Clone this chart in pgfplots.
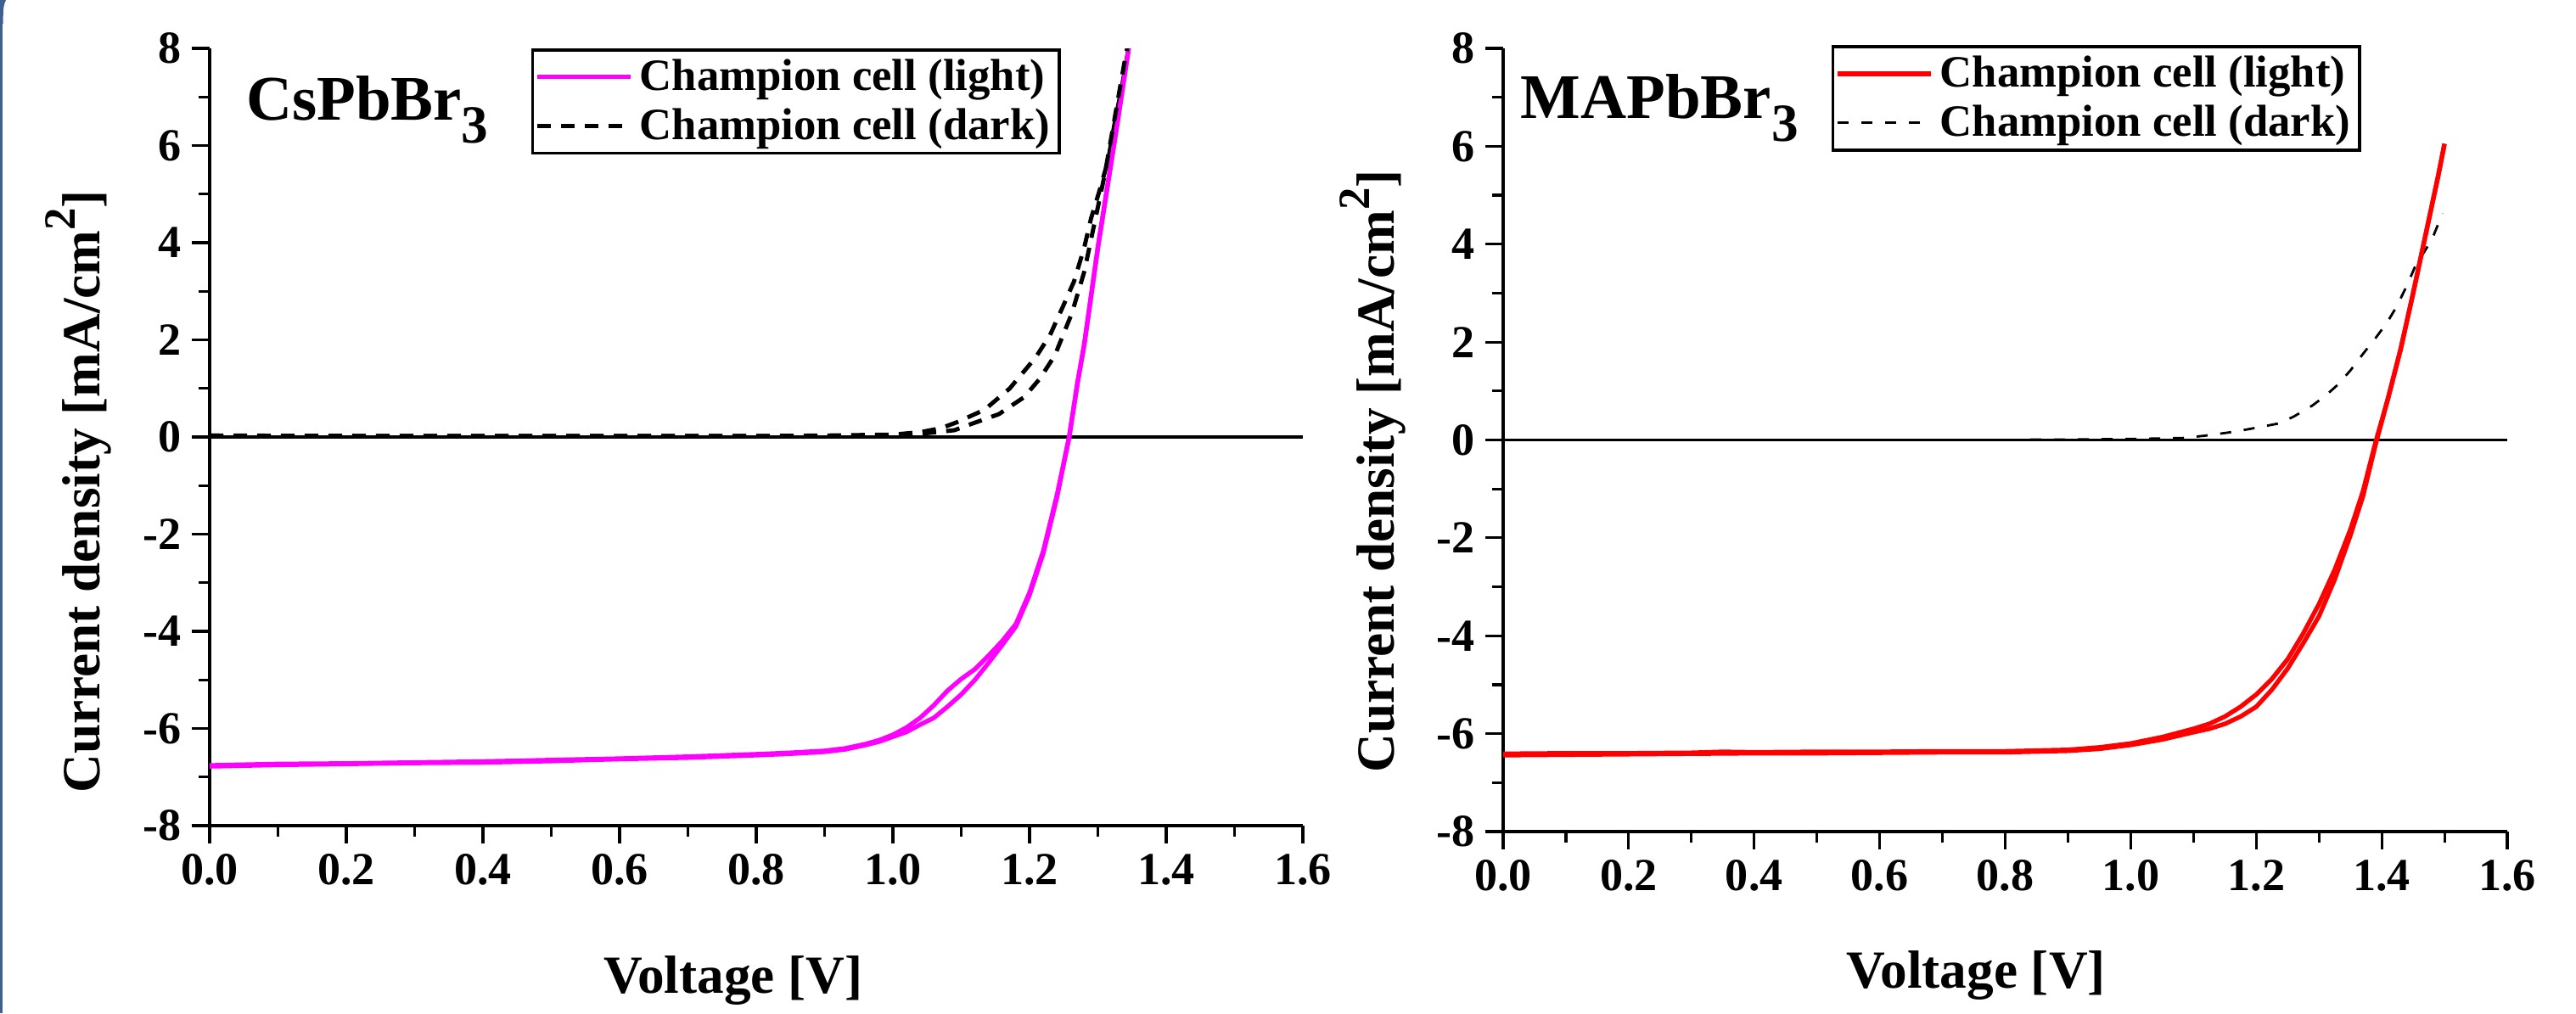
\documentclass[border=0pt]{standalone}
\usepackage{fontspec}
\setmainfont{Liberation Serif}
\usepackage{pgfplots}
\pgfplotsset{compat=1.18}
\definecolor{slidebar}{RGB}{63,95,143}
\definecolor{jvmagenta}{RGB}{255,0,255}
\definecolor{jvred}{RGB}{255,0,0}
\pgfplotsset{
  jvaxis/.style={
    scale only axis,
    xmin=0, xmax=1.6, ymin=-8, ymax=8,
    axis x line=bottom, axis y line=left,
    axis line style={-, line width=1pt},
    xtick={0,0.2,0.4,0.6,0.8,1.0,1.2,1.4,1.6},
    ytick={-8,-6,-4,-2,0,2,4,6,8},
    minor x tick num=1, minor y tick num=1,
    tick align=outside, tick style={black, line width=0.9pt},
    major tick length=0.21cm, minor tick length=0.13cm,
    x tick label style={/pgf/number format/fixed,
      /pgf/number format/fixed zerofill, /pgf/number format/precision=1},
    /pgf/number format/assume math mode=true,
    tick label style={font=\fontsize{15.4}{18}\selectfont\bfseries},
    label style={font=\fontsize{18}{21}\selectfont\bfseries},
    xlabel={Voltage [V]},
    ylabel={Current density [mA/cm\raisebox{0.45em}{\fontsize{15}{15}\selectfont 2}]},
    legend cell align=left,
    legend style={draw=black, line width=1pt, fill=white, anchor=north west,
      font=\fontsize{15}{18}\selectfont\bfseries, inner sep=0.03cm,
      nodes={inner sep=0.08cm}, row sep=0pt},
    legend image code/.code={\draw[#1] (0cm,0cm) -- (1.1cm,0cm);},
  },
  zeroline/.style={black, line width=0.9pt, forget plot},
}

% digitised J-V data (mA/cm^2 vs V)
\pgfplotstableread{
V J
0 -6.76
0.1 -6.73
0.2 -6.72
0.3 -6.70
0.4 -6.68
0.5 -6.65
0.6 -6.62
0.7 -6.58
0.8 -6.53
0.85 -6.50
0.9 -6.46
0.93 -6.41
0.96 -6.32
0.98 -6.24
1.0 -6.13
1.02 -5.98
1.04 -5.78
1.06 -5.52
1.08 -5.22
1.10 -4.98
1.12 -4.78
1.14 -4.50
1.16 -4.20
1.18 -3.85
1.20 -3.20
1.22 -2.35
1.24 -1.20
1.258 0
1.27 1.1
1.28 1.9
1.29 2.9
1.30 3.9
1.31 4.8
1.32 5.7
1.33 6.6
1.345 8.0
}\csLightA
\pgfplotstableread{
V J
0 -6.78
0.1 -6.75
0.2 -6.73
0.3 -6.71
0.4 -6.70
0.5 -6.67
0.6 -6.63
0.7 -6.60
0.8 -6.55
0.85 -6.52
0.9 -6.48
0.93 -6.43
0.96 -6.34
0.98 -6.27
1.0 -6.17
1.02 -6.07
1.04 -5.92
1.06 -5.78
1.08 -5.55
1.10 -5.30
1.12 -5.00
1.14 -4.65
1.16 -4.28
1.18 -3.90
1.20 -3.25
1.22 -2.40
1.24 -1.25
1.258 0
1.27 1.1
1.28 1.9
1.29 2.9
1.30 3.9
1.31 4.8
1.32 5.7
1.33 6.6
1.345 8.0
}\csLightB
\pgfplotstableread{
V J
0 0.03
0.05 0.02
0.2 0.02
0.4 0.02
0.6 0.02
0.8 0.02
0.9 0.03
1.0 0.05
1.04 0.10
1.07 0.18
1.093 0.30
1.134 0.56
1.171 1.00
1.209 1.64
1.23 2.10
1.248 2.66
1.265 3.20
1.28 3.90
1.29 4.50
1.303 5.10
1.315 5.70
1.325 6.50
1.335 7.20
1.345 8.00
}\csDarkA
\pgfplotstableread{
V J
0 0.03
0.3 0.02
0.6 0.02
0.9 0.02
1.0 0.04
1.05 0.08
1.09 0.14
1.113 0.26
1.155 0.47
1.192 0.82
1.215 1.20
1.237 1.68
1.262 2.55
1.28 3.40
1.295 4.40
1.31 5.40
1.325 6.60
1.34 7.80
1.35 8.50
}\csDarkB
\pgfplotstableread{
V J
0 -6.41
0.1 -6.40
0.2 -6.40
0.3 -6.39
0.35 -6.37
0.4 -6.38
0.5 -6.37
0.6 -6.37
0.7 -6.36
0.8 -6.36
0.9 -6.33
0.95 -6.28
1.0 -6.20
1.05 -6.07
1.1 -5.90
1.125 -5.80
1.15 -5.65
1.175 -5.45
1.2 -5.20
1.225 -4.88
1.25 -4.48
1.275 -3.95
1.3 -3.35
1.325 -2.65
1.35 -1.83
1.37 -1.05
1.39 -0.05
1.41 0.85
1.43 1.85
1.45 3.00
1.47 4.20
1.49 5.40
1.5 6.05
}\maLightA
\pgfplotstableread{
V J
0 -6.44
0.1 -6.43
0.2 -6.42
0.3 -6.41
0.4 -6.40
0.5 -6.40
0.6 -6.39
0.7 -6.38
0.8 -6.38
0.9 -6.35
0.95 -6.31
1.0 -6.23
1.05 -6.12
1.1 -5.97
1.125 -5.90
1.15 -5.80
1.175 -5.65
1.2 -5.45
1.225 -5.10
1.25 -4.67
1.275 -4.15
1.3 -3.60
1.325 -2.85
1.35 -1.95
1.37 -1.15
1.39 -0.10
1.41 0.85
1.43 1.85
1.45 3.00
1.47 4.20
1.49 5.40
1.5 6.05
}\maLightB
\pgfplotstableread{
V J
0.84 0.01
0.9 0.01
1.0 0.02
1.083 0.04
1.12 0.09
1.166 0.17
1.2 0.25
1.237 0.34
1.26 0.48
1.289 0.70
1.31 0.90
1.33 1.13
1.35 1.42
1.372 1.79
1.39 2.08
1.408 2.39
1.423 2.71
1.44 3.15
1.454 3.57
1.468 3.85
1.48 4.10
1.497 4.63
}\maDark

\begin{document}
\begin{tikzpicture}
\useasboundingbox (-2.47,-2.21) rectangle (27.88,9.73);
\fill[slidebar] (-2.47,-2.21) rectangle (-2.435,9.73);
\fill[slidebar] (-2.47,9.73) -- (-2.40,9.73) .. controls (-2.43,9.66) .. (-2.435,9.45) -- (-2.47,9.45) -- cycle;

% CsPbBr3
\begin{axis}[jvaxis, at={(0cm,0cm)}, anchor=south west,
  width=12.88cm, height=9.16cm,
  xlabel style={at={(axis description cs:0.479,-0.216)}, anchor=base},
  ylabel style={at={(axis description cs:-0.12,0.43)}, anchor=center},
  legend style={at={(axis description cs:0.294,1.0)}},
]
\addplot[zeroline] coordinates {(0,0) (1.6,0)};
\addplot[jvmagenta, line width=1.5pt] table {\csLightA};
\addlegendentry{Champion cell (light)}
\addplot[black, line width=1.4pt, dash pattern=on 1.6mm off 1.2mm] table {\csDarkA};
\addlegendentry{Champion cell (dark)}
\addplot[jvmagenta, line width=1.5pt, forget plot] table {\csLightB};
\addplot[black, line width=1.4pt, dash pattern=on 1.6mm off 1.2mm, forget plot] table {\csDarkB};
\node[anchor=base west, inner sep=0, font=\fontsize{21.3}{24}\selectfont\bfseries]
  at (axis description cs:0.033,0.908) {CsPbBr\raisebox{-0.37em}{\fontsize{18}{18}\selectfont 3}};
\end{axis}

% MAPbBr3
\begin{axis}[jvaxis, at={(15.24cm,-0.07cm)}, anchor=south west,
  width=11.83cm, height=9.23cm,
  xlabel style={at={(axis description cs:0.471,-0.2)}, anchor=base},
  ylabel style={at={(axis description cs:-0.13,0.46)}, anchor=center},
  legend style={at={(axis description cs:0.327,1.004)}},
]
\addplot[zeroline] coordinates {(0,0) (1.6,0)};
\addplot[jvred, line width=1.5pt] table {\maLightA};
\addlegendentry{Champion cell (light)}
\addplot[black, line width=0.8pt, dash pattern=on 1.3mm off 1.5mm] table {\maDark};
\addlegendentry{Champion cell (dark)}
\addplot[jvred, line width=1.5pt, forget plot] table {\maLightB};
\node[anchor=base west, inner sep=0, font=\fontsize{21.3}{24}\selectfont\bfseries]
  at (axis description cs:0.017,0.911) {MAPbBr\raisebox{-0.37em}{\fontsize{18}{18}\selectfont 3}};
\end{axis}
\end{tikzpicture}
\end{document}
